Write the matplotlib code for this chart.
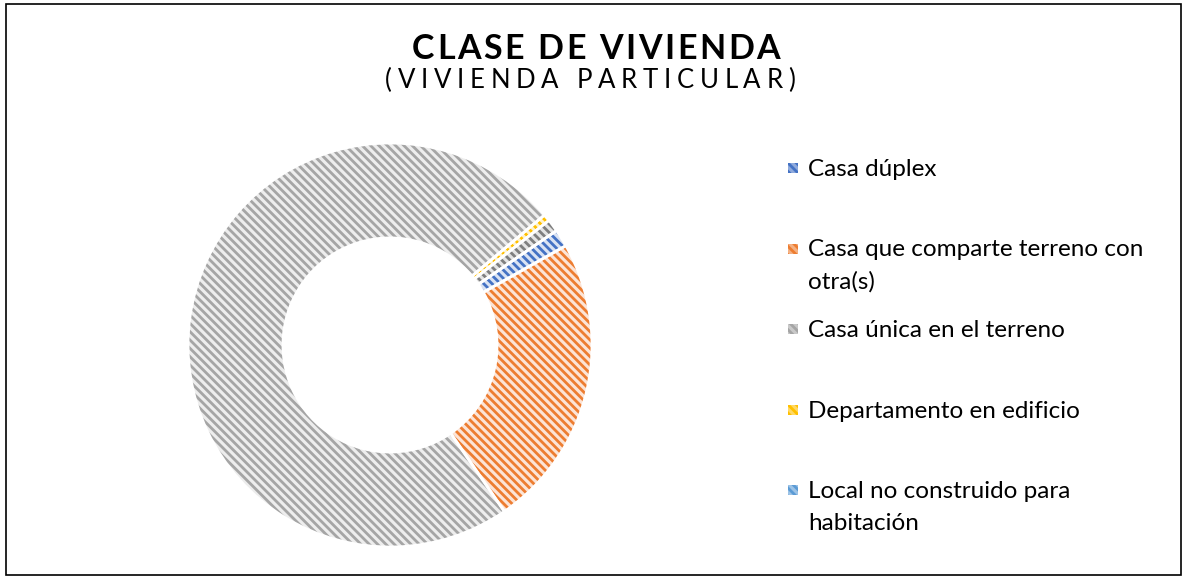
import matplotlib.pyplot as plt
from matplotlib.patches import Rectangle

W, H = 1183, 577
plt.rcParams['font.family'] = ['Lato', 'DejaVu Sans']
plt.rcParams['hatch.linewidth'] = 2.0

categorias = ['Casa dúplex', 'Casa que comparte terreno con otra(s)', 'Casa única en el terreno',
              'Departamento en edificio', 'Local no construido para habitación']
etiquetas = [['Casa dúplex'], ['Casa que comparte terreno con', 'otra(s)'], ['Casa única en el terreno'],
             ['Departamento en edificio'], ['Local no construido para', 'habitación']]
valores = [1.4, 23.6, 73.45, 0.55, 1.0]

col_trama = ['#4472C4', '#ED7D31', '#A5A5A5', '#FFC000', '#7F7F7F']
col_fondo = ['#DAE3F3', '#FCE4D6', '#EDEDED', '#FFF2CC', '#E4E4E4']
col_leyenda = ['#4472C4', '#ED7D31', '#A5A5A5', '#FFC000', '#5B9BD5']
col_leyenda_fondo = ['#8FAADC', '#F4B183', '#C9C9C9', '#FFD966', '#9DC3E6']


def fx(x):
    return x / W


def fy(y):
    return 1 - y / H


def texto_espaciado(fig, xc, yb, s, ancho, **kw):
    # coloca letra por letra para imitar el espaciado de caracteres
    r = fig.canvas.get_renderer()
    anchos = []
    for ch in s:
        t = fig.text(0, 0, ch, **kw)
        anchos.append(t.get_window_extent(r).width if ch != ' ' else None)
        t.remove()
    t = fig.text(0, 0, 'a a', **kw)
    w_esp = t.get_window_extent(r).width
    t.remove()
    t = fig.text(0, 0, 'aa', **kw)
    w_esp -= t.get_window_extent(r).width
    t.remove()
    anchos = [a if a is not None else w_esp for a in anchos]
    extra = (ancho - sum(anchos)) / (len(s) - 1)
    x = xc - ancho / 2
    for ch, a in zip(s, anchos):
        fig.text(fx(x), fy(yb), ch, ha='left', va='baseline', **kw)
        x += a + extra


fig = plt.figure(figsize=(W / 100, H / 100), dpi=100)

# dona
cx, cy, r = 390, 345, 202
ax = fig.add_axes([fx(cx - r), (H - cy - r) / H, 2 * r / W, 2 * r / H])
wedges, _ = ax.pie(valores, startangle=34.5, counterclock=False, radius=1,
                   wedgeprops=dict(width=0.47, linewidth=0))
for w, ct, cf in zip(wedges, col_trama, col_fondo):
    w.set_facecolor(cf)
    w.set_edgecolor(ct)
    w.set_hatch('\\\\\\\\')
ax.pie(valores, startangle=34.5, counterclock=False, radius=1,
       wedgeprops=dict(width=0.47, linewidth=2.0, edgecolor='white', facecolor='none'))
ax.set_xlim(-1, 1)
ax.set_ylim(-1, 1)
ax.set_aspect('auto')
ax.axis('off')

# titulo
texto_espaciado(fig, 596, 59, 'CLASE DE VIVIENDA', 368, fontsize=24.5, fontweight='bold', color='#000000')
texto_espaciado(fig, 590, 88, '(VIVIENDA PARTICULAR)', 410, fontsize=18.5, color='#000000')

# leyenda
for i, lineas in enumerate(etiquetas):
    base = 176 + i * 80.5
    fig.patches.append(Rectangle((fx(788), fy(base - 3)), 10 / W, 10 / H, transform=fig.transFigure,
                                 facecolor=col_leyenda_fondo[i], edgecolor=col_leyenda[i],
                                 hatch='\\\\\\\\', linewidth=0))
    for j, linea in enumerate(lineas):
        fig.text(fx(808), fy(base + j * 32), linea, ha='left', va='baseline',
                 fontsize=17.5, color='#000000')

# borde
fig.patches.append(Rectangle((fx(6), fy(575)), 1175 / W, 571 / H, transform=fig.transFigure,
                             facecolor='none', edgecolor='#000000', linewidth=1.2))

fig.savefig('out.png', dpi=100)
